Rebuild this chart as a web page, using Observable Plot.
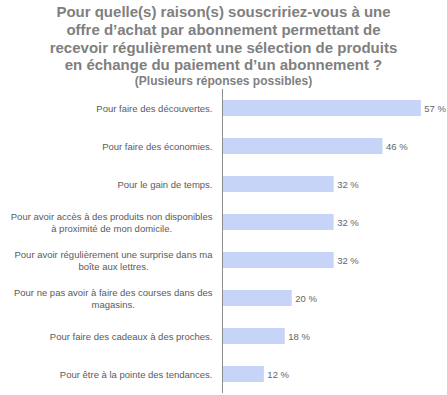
<!DOCTYPE html>
<html>
<head>
<meta charset="utf-8">
<script src="https://cdn.jsdelivr.net/npm/d3@7"></script>
<script src="https://cdn.jsdelivr.net/npm/@observablehq/plot@0.6"></script>
<style>
  html, body { margin: 0; padding: 0; background: #fff; }
  body { width: 447px; height: 395px; overflow: hidden; font-family: "Liberation Sans", Arial, sans-serif; }
  #title { height: 88px; box-sizing: border-box; padding-top: 3px; text-align: center; color: #7f7f7f; font-weight: bold; }
  #title .t { font-size: 15px; line-height: 17.8px; }
  #title .s { font-size: 12px; line-height: 14px; }
  #chart svg { display: block; }
</style>
</head>
<body>
<div id="title">
  <div class="t">Pour quelle(s) raison(s) souscririez-vous à une<br>offre d’achat par abonnement permettant de<br>recevoir régulièrement une sélection de produits<br>en échange du paiement d’un abonnement ?</div>
  <div class="s">(Plusieurs réponses possibles)</div>
</div>
<div id="chart"></div>
<script>
const categories = [
  "Pour faire des découvertes.",
  "Pour faire des économies.",
  "Pour le gain de temps.",
  "Pour avoir accès à des produits non disponibles\nà proximité de mon domicile.",
  "Pour avoir régulièrement une surprise dans ma\nboîte aux lettres.",
  "Pour ne pas avoir à faire des courses dans des\nmagasins.",
  "Pour faire des cadeaux à des proches.",
  "Pour être à la pointe des tendances."
];
const values = [57, 46, 32, 32, 32, 20, 18, 12];
const valueLabels = ["57 %", "46 %", "32 %", "32 %", "32 %", "20 %", "18 %", "12 %"];

const data = categories.map((c, i) => ({ cat: c, value: values[i], label: valueLabels[i] }));

const chart = Plot.plot({
  width: 447,
  height: 307,
  marginLeft: 222,
  marginRight: 0,
  marginTop: 1,
  marginBottom: 2,
  style: { fontFamily: "Liberation Sans, Arial, sans-serif", background: "#fff" },
  x: { domain: [0, 64.5], axis: null },
  y: { domain: categories, paddingInner: 0.58, paddingOuter: 0.29, label: null },
  marks: [
    Plot.barX(data, { y: "cat", x: "value", fill: "#c6d4f7" }),
    Plot.text(data, { y: "cat", x: "value", text: "label", textAnchor: "start", dx: 3, fontSize: 9.5, fill: "#666666" }),
    Plot.axisY({ tickSize: 0, tickPadding: 10, fontSize: 9.5, color: "#5a5a5a", lineHeight: 1.25, label: null }),
    Plot.ruleX([0], { stroke: "#8c8c8c", strokeWidth: 1 })
  ]
});
document.getElementById("chart").appendChild(chart);

// center multi-line tick labels within their block (right-aligned block)
chart.querySelectorAll("g[aria-label='y-axis tick label'] text").forEach(t => {
  const spans = t.querySelectorAll("tspan");
  if (spans.length > 1) {
    let w = 0;
    spans.forEach(s => { w = Math.max(w, s.getComputedTextLength()); });
    t.setAttribute("text-anchor", "middle");
    t.style.textAnchor = "middle";
    spans.forEach(s => s.setAttribute("x", -w / 2));
  }
});
</script>
</body>
</html>
